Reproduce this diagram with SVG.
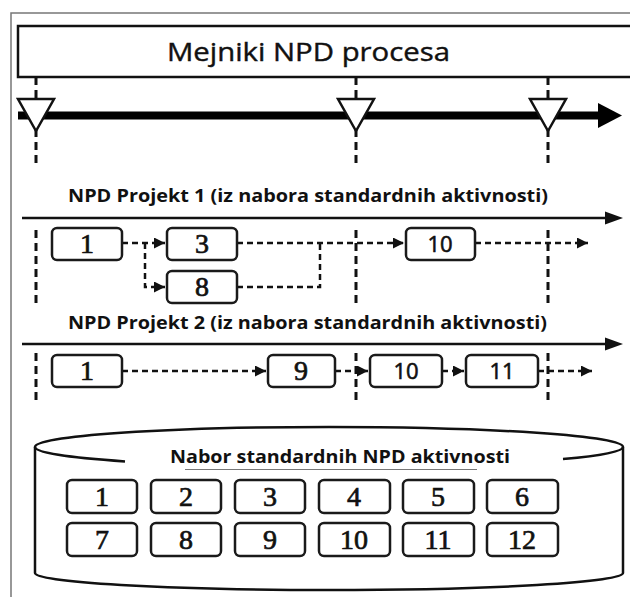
<svg xmlns="http://www.w3.org/2000/svg" width="630" height="597" viewBox="0 0 630 597">
<defs>
<style>
.frame{fill:none;stroke:#777;stroke-width:1.5}
.box{fill:#fff;stroke:#1a1a1a;stroke-width:2.5}
.ms{stroke:#111;stroke-width:3;stroke-dasharray:8 5;fill:none}
.con{stroke:#111;stroke-width:2.5;stroke-dasharray:6 4;fill:none}
.num{font-family:"Liberation Serif",serif;font-size:28px;text-anchor:middle;fill:#111;stroke:#111;stroke-width:0.7}
.nums{font-family:"Open Sans","Liberation Sans",sans-serif;font-size:22px;text-anchor:middle;fill:#111;stroke:#111;stroke-width:0.6}
.lbl{font-family:"Open Sans","Liberation Sans",sans-serif;font-weight:bold;font-size:18px;fill:#111}
.tri{fill:#fff;stroke:#111;stroke-width:2.5}
</style>
<marker id="ah" markerUnits="userSpaceOnUse" markerWidth="12" markerHeight="12" refX="11" refY="5.5" orient="auto">
<path d="M0,0 L11,5.5 L0,11 z" fill="#111"/>
</marker>
</defs>
<rect width="630" height="597" fill="#fff"/>
<path class="frame" d="M11,597 L11,13 L632,13"/>

<g id="milestones">
<rect x="18" y="26" width="640" height="51" fill="#fff" stroke="#111" stroke-width="2.5"/>
<text x="167" y="61" font-family="'Open Sans','Liberation Sans',sans-serif" font-size="25" fill="#111" stroke="#111" stroke-width="0.4" textLength="283" lengthAdjust="spacingAndGlyphs">Mejniki NPD procesa</text>
</g>

<g id="milestone-lines">
<path class="ms" d="M36,77 V168 M356,77 V168 M548,77 V168"/>
<path class="ms" d="M36,230 V303 M356,230 V303 M548,230 V303"/>
<path class="ms" d="M36,353 V400 M356,353 V400 M548,353 V400"/>
<line x1="18" y1="115.5" x2="600" y2="115.5" stroke="#000" stroke-width="8"/>
<polygon points="598,103 622,115.5 598,128" fill="#000"/>
<polygon class="tri" points="18,99 54,99 36,131"/>
<polygon class="tri" points="338,99 374,99 356,131"/>
<polygon class="tri" points="530,99 566,99 548,131"/>
</g>

<g id="project1">
<text class="lbl" x="68" y="202" textLength="480" lengthAdjust="spacingAndGlyphs">NPD Projekt 1 (iz nabora standardnih aktivnosti)</text>
<line x1="22" y1="218" x2="608" y2="218" stroke="#111" stroke-width="2.5"/>
<polygon points="605,211.5 623,218 605,224.5" fill="#111"/>
</g>

<g id="project2">
<text class="lbl" x="68" y="329" textLength="479" lengthAdjust="spacingAndGlyphs">NPD Projekt 2 (iz nabora standardnih aktivnosti)</text>
<line x1="22" y1="344" x2="608" y2="344" stroke="#111" stroke-width="2.5"/>
<polygon points="605,337.5 623,344 605,350.5" fill="#111"/>
</g>

<g id="connectors">
<path class="con" d="M122,243 H165" marker-end="url(#ah)"/>
<path class="con" d="M145,243 V287 H165" marker-end="url(#ah)"/>
<path class="con" d="M237,243 H404" marker-end="url(#ah)"/>
<path class="con" d="M237,287 H320 V243"/>
<path class="con" d="M475,243 H588" marker-end="url(#ah)"/>
<path class="con" d="M122,371 H266" marker-end="url(#ah)"/>
<path class="con" d="M335,371 H368" marker-end="url(#ah)"/>
<path class="con" d="M442,371 H464" marker-end="url(#ah)"/>
<path class="con" d="M538,371 H592" marker-end="url(#ah)"/>
</g>

<g id="p1-a1"><rect class="box" x="52" y="228" width="70" height="32" rx="5"/><text class="num" x="87" y="253">1</text></g>
<g id="p1-a3"><rect class="box" x="167" y="228" width="70" height="32" rx="5"/><text class="num" x="202" y="253">3</text></g>
<g id="p1-a8"><rect class="box" x="167" y="271" width="70" height="32" rx="5"/><text class="num" x="202" y="296">8</text></g>
<g id="p1-a10"><rect class="box" x="406" y="228" width="69" height="32" rx="5"/><text class="nums" x="440" y="252">10</text></g>

<g id="p2-a1"><rect class="box" x="52" y="355" width="70" height="32" rx="5"/><text class="num" x="87" y="380">1</text></g>
<g id="p2-a9"><rect class="box" x="268" y="355" width="67" height="32" rx="5"/><text class="num" x="301" y="380">9</text></g>
<g id="p2-a10"><rect class="box" x="370" y="355" width="72" height="32" rx="5"/><text class="nums" x="406" y="379">10</text></g>
<g id="p2-a11"><rect class="box" x="466" y="355" width="72" height="32" rx="5"/><text class="nums" x="502" y="379">11</text></g>

<g id="repository">
<path d="M35,447 A294,20 0 0 1 623,447 V573 A294,17 0 0 1 35,573 Z" fill="#fff" stroke="#111" stroke-width="2.5"/>
<path d="M35,447 A294,20 0 0 0 125,461.4 M563,459.1 A294,20 0 0 0 623,447" fill="none" stroke="#111" stroke-width="2.5"/>
<text class="lbl" x="170" y="463" textLength="340" lengthAdjust="spacingAndGlyphs">Nabor standardnih NPD aktivnosti</text>
<line x1="185" y1="469.5" x2="477" y2="469.5" stroke="#777" stroke-width="1.2"/>
</g>

<g id="s1"><rect class="box" x="67" y="480" width="70" height="33" rx="5"/><text class="num" x="102" y="506">1</text></g>
<g id="s2"><rect class="box" x="151" y="480" width="70" height="33" rx="5"/><text class="num" x="186" y="506">2</text></g>
<g id="s3"><rect class="box" x="235" y="480" width="70" height="33" rx="5"/><text class="num" x="270" y="506">3</text></g>
<g id="s4"><rect class="box" x="319" y="480" width="71" height="33" rx="5"/><text class="num" x="354" y="506">4</text></g>
<g id="s5"><rect class="box" x="403" y="480" width="71" height="33" rx="5"/><text class="num" x="438" y="506">5</text></g>
<g id="s6"><rect class="box" x="487" y="480" width="71" height="33" rx="5"/><text class="num" x="522" y="506">6</text></g>
<g id="s7"><rect class="box" x="67" y="523" width="70" height="33" rx="5"/><text class="num" x="102" y="549">7</text></g>
<g id="s8"><rect class="box" x="151" y="523" width="70" height="33" rx="5"/><text class="num" x="186" y="549">8</text></g>
<g id="s9"><rect class="box" x="235" y="523" width="70" height="33" rx="5"/><text class="num" x="270" y="549">9</text></g>
<g id="s10"><rect class="box" x="319" y="523" width="71" height="33" rx="5"/><text class="num" x="354" y="549">10</text></g>
<g id="s11"><rect class="box" x="403" y="523" width="71" height="33" rx="5"/><text class="num" x="438" y="549">11</text></g>
<g id="s12"><rect class="box" x="487" y="523" width="71" height="33" rx="5"/><text class="num" x="522" y="549">12</text></g>
</svg>
